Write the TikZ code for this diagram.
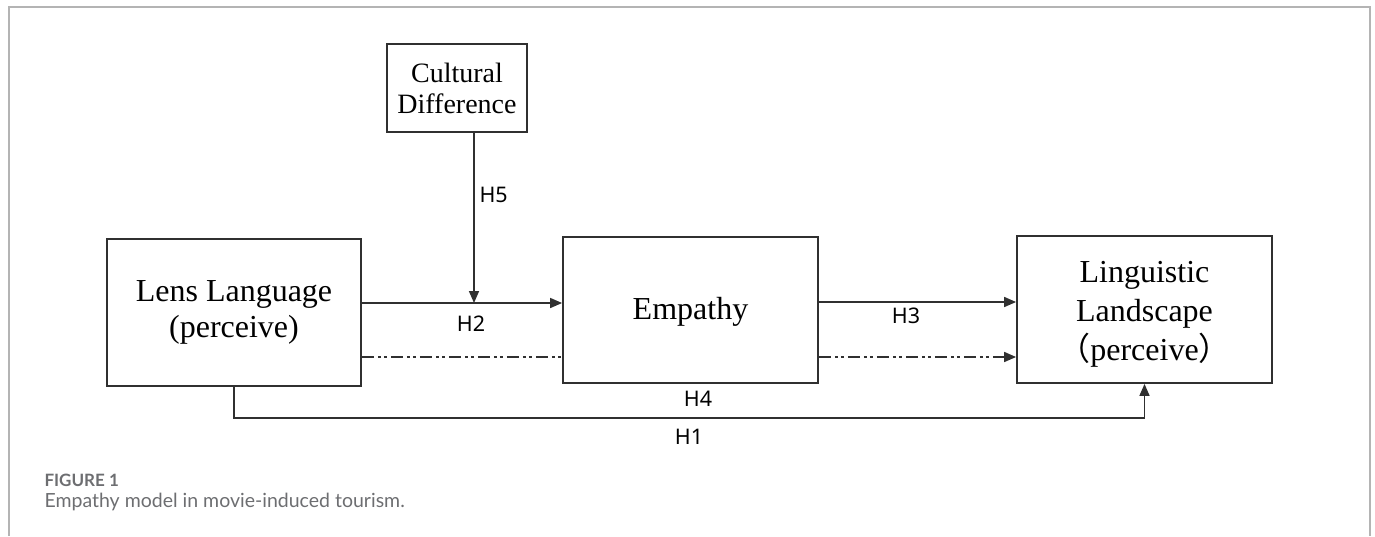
\documentclass[tikz,border=0pt]{standalone}
\usepackage{fontspec}
\setmainfont{Liberation Serif}
\newfontfamily\labelfont{Noto Sans}
\newfontfamily\capfont{Lato}
\newfontfamily\cjk{Noto Sans CJK SC}
\usetikzlibrary{arrows.meta, positioning, calc}
\definecolor{framegray}{HTML}{B4B4B4}
\definecolor{capgray}{HTML}{6D6E71}
\definecolor{boxline}{HTML}{303030}

\begin{document}
\begin{tikzpicture}[x=1pt, y=-1pt,
    box/.style={draw=boxline, line width=1.8pt, align=center, inner sep=0pt,
                font=\fontsize{32}{36}\selectfont},
    hyp/.style={font=\labelfont\fontsize{21.5}{24}\selectfont},
    link/.style={line width=1.6pt, draw=boxline,
                 -{Triangle[length=12pt, width=10pt]}},
    dashdot/.style={line width=1.6pt, draw=boxline,
                    dash pattern=on 12pt off 4pt on 3pt off 3pt on 3pt off 4pt}
  ]
  \useasboundingbox (0,0) rectangle (1375,536);
  \draw[framegray, line width=2pt] (8.5,536) -- (8.5,7) -- (1370,7) -- (1370,536);

  \node[box, minimum width=140pt, minimum height=88pt,
        font=\fontsize{28}{31}\selectfont] (cult) at (457,88) {Cultural\\Difference};
  \node[box, minimum width=254pt, minimum height=147pt] (lens) at (234,312.5)
        {Lens Language\\(perceive)};
  \node[box, minimum width=255pt, minimum height=146pt] (emp) at (690.5,310) {};
  \node[box, draw=none] at ($(emp)+(0,2)$) {Empathy};
  \node[box, minimum width=255pt, minimum height=147pt] (ling) at (1144.5,309.5) {};
  \node[box, draw=none, font=\fontsize{32}{39}\selectfont] at ($(ling)+(0,5)$)
        {Linguistic\\Landscape\\{\cjk （}perceive{\cjk ）}};

  \coordinate (mod) at (474,303);
  \coordinate (dd) at (0,357);
  \coordinate (low) at (689,418);

  \draw[link] (cult.south -| mod) -- (mod);
  \draw[link] (lens.east |- mod) -- (emp.west |- mod);
  \draw[link] (emp.east |- 0,302) -- (ling.west |- 0,302);
  \draw[dashdot] (lens.east |- dd) -- (emp.west |- dd);
  \draw[dashdot, -{Triangle[length=12pt, width=10pt]}] (emp.east |- dd) -- (ling.west |- dd);
  \draw[link] (lens.south) |- (low) -| (ling.south);

  \node[hyp, anchor=west] (h5) at (476,195) {H5};
  \node[hyp] (h2) at (471,324) {H2};
  \node[hyp] (h3) at (906,316) {H3};
  \node[hyp] (h4) at (698,399) {H4};
  \node[hyp] (h1) at (689,437) {H1};

  \node[anchor=west, text=capgray, font=\capfont\bfseries\fontsize{17}{19}\selectfont]
        (fig) at (41,480) {FIGURE 1};
  \node[anchor=west, text=capgray, font=\capfont\fontsize{19.5}{24}\selectfont]
        (cap) at (41,502) {Empathy model in movie-induced tourism.};
\end{tikzpicture}
\end{document}
